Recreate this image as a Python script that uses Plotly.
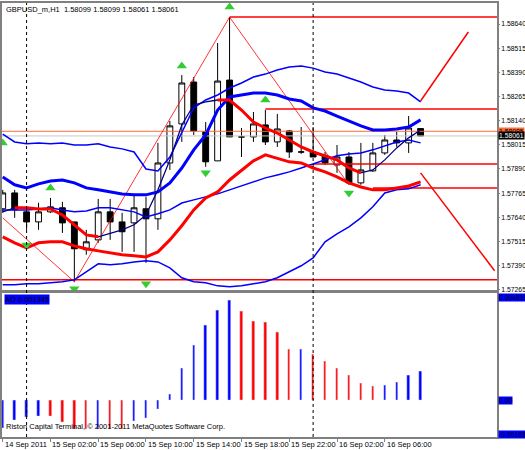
import plotly.graph_objects as go
from plotly.subplots import make_subplots

# bar index 0 = 14 Sep 22:00, one bar per hour
bars = list(range(36))
opens = [1.57684, 1.57766, 1.57668, 1.57616, 1.57668, 1.57689, 1.57616, 1.57472, 1.57523, 1.57668, 1.57616, 1.57611,
         1.57684, 1.57632, 1.57921, 1.58123, 1.58340, 1.58082, 1.57932, 1.58350, 1.58056, 1.58056, 1.58118, 1.58030,
         1.58087, 1.57978, 1.57978, 1.57958, 1.57911, 1.57952, 1.57818, 1.57880, 1.57973, 1.58040, 1.58025, 1.58099]
highs = [1.57782, 1.57782, 1.57689, 1.57715, 1.57740, 1.57720, 1.57616, 1.57575, 1.57735, 1.57735, 1.57663, 1.57756,
         1.57746, 1.58025, 1.58139, 1.58376, 1.58366, 1.58133, 1.58542, 1.58676, 1.58102, 1.58185, 1.58195, 1.58175,
         1.58092, 1.58107, 1.58107, 1.57978, 1.58014, 1.57978, 1.58025, 1.58025, 1.58066, 1.58082, 1.58164, 1.58099]
lows = [1.57663, 1.57637, 1.57575, 1.57575, 1.57663, 1.57559, 1.57306, 1.57446, 1.57508, 1.57523, 1.57461, 1.57461,
        1.57404, 1.57575, 1.57885, 1.58030, 1.58066, 1.57901, 1.57932, 1.58056, 1.57952, 1.58030, 1.58014, 1.58004,
        1.57947, 1.57968, 1.57952, 1.57911, 1.57870, 1.57808, 1.57808, 1.57875, 1.57963, 1.58004, 1.57973, 1.58061]
closes = [1.57766, 1.57679, 1.57616, 1.57668, 1.57694, 1.57611, 1.57477, 1.57513, 1.57668, 1.57616, 1.57565, 1.57689,
          1.57632, 1.57921, 1.58113, 1.58335, 1.58087, 1.57927, 1.58345, 1.58056, 1.58056, 1.58123, 1.58030, 1.58097,
          1.57978, 1.57978, 1.57952, 1.57921, 1.57952, 1.57818, 1.57885, 1.57973, 1.58040, 1.58025, 1.58102, 1.58061]

band_upper = [1.58071, 1.58030, 1.58020, 1.58025, 1.58020, 1.58025, 1.58014, 1.58014, 1.58020, 1.58004, 1.57994, 1.57978,
              1.57890, 1.57880, 1.57952, 1.58076, 1.58206, 1.58247, 1.58273, 1.58309, 1.58335, 1.58366, 1.58381, 1.58402,
              1.58418, 1.58423, 1.58412, 1.58392, 1.58381, 1.58361, 1.58340, 1.58314, 1.58299, 1.58294, 1.58283, 1.58237]
band_inner = [1.57849, 1.57808, 1.57792, 1.57813, 1.57828, 1.57833, 1.57818, 1.57792, 1.57782, 1.57771, 1.57761, 1.57756,
              1.57756, 1.57771, 1.57818, 1.57895, 1.57989, 1.58066, 1.58195, 1.58263, 1.58273, 1.58283, 1.58283, 1.58273,
              1.58252, 1.58242, 1.58206, 1.58190, 1.58164, 1.58138, 1.58113, 1.58092, 1.58092, 1.58097, 1.58107, 1.58144]
band_mid = [1.57678, 1.57678, 1.57678, 1.57683, 1.57689, 1.57678, 1.57668, 1.57673, 1.57689, 1.57689, 1.57678, 1.57668,
            1.57642, 1.57658, 1.57678, 1.57714, 1.57730, 1.57746, 1.57761, 1.57782, 1.57802, 1.57823, 1.57844, 1.57859,
            1.57875, 1.57895, 1.57916, 1.57937, 1.57958, 1.57968, 1.57973, 1.57989, 1.58009, 1.58030, 1.58040, 1.58025]
band_lower = [1.57291, 1.57291, 1.57296, 1.57296, 1.57301, 1.57306, 1.57316, 1.57358, 1.57399, 1.57394, 1.57399, 1.57409,
              1.57415, 1.57409, 1.57378, 1.57327, 1.57306, 1.57301, 1.57285, 1.57280, 1.57285, 1.57296, 1.57306, 1.57327,
              1.57358, 1.57389, 1.57430, 1.57513, 1.57554, 1.57590, 1.57637, 1.57694, 1.57766, 1.57782, 1.57787, 1.57808]
fast_ma = [1.57668, 1.57689, 1.57689, 1.57683, 1.57683, 1.57652, 1.57601, 1.57549, 1.57539, 1.57559, 1.57575, 1.57601,
           1.57652, 1.57782, 1.57937, 1.58118, 1.58221, 1.58237, 1.58247, 1.58247, 1.58195, 1.58133, 1.58102, 1.58076,
           1.58040, 1.58004, 1.57978, 1.57958, 1.57937, 1.57895, 1.57870, 1.57885, 1.57937, 1.57999, 1.58051, 1.58092]
slow_ma = [1.57539, 1.57508, 1.57482, 1.57508, 1.57513, 1.57513, 1.57492, 1.57477, 1.57466, 1.57456, 1.57446, 1.57441,
           1.57435, 1.57461, 1.57523, 1.57596, 1.57678, 1.57740, 1.57771, 1.57833, 1.57885, 1.57932, 1.57963, 1.57947,
           1.57927, 1.57921, 1.57895, 1.57875, 1.57849, 1.57818, 1.57797, 1.57782, 1.57782, 1.57792, 1.57802, 1.57823]

zigzag_x = [0, 6, 19, 29]
zigzag_y = [1.57637, 1.57306, 1.58676, 1.57808]
levels_start = [19, 22, 26, 31, -0.06]
levels = [1.58676, 1.58200, 1.57916, 1.57791, 1.57316]
proj_up_x, proj_up_y = [35, 39], [1.58242, 1.58599]
proj_dn_x, proj_dn_y = [35, 41.2], [1.57870, 1.57363]
ask_price, bid_price = 1.58085, 1.58061

fr_up_x = [0, 4, 15, 19, 22]
fr_up_y = [1.58025, 1.57792, 1.58423, 1.58728, 1.58247]
fr_dn_x = [2, 6, 12, 17, 29]
fr_dn_y = [1.57497, 1.57270, 1.57296, 1.57870, 1.57766]

ao = [-0.00136, -0.00096, -0.00085, -0.00077, -0.0008, -0.00105, -0.0014, -0.0014, -0.0014, -0.0014, -0.0014, -0.00102,
      -0.00086, -0.00046, 0.00027, 0.00153, 0.00263, 0.00359, 0.00431, 0.00479, 0.00426, 0.0038, 0.00372, 0.00326,
      0.00244, 0.00244, 0.00219, 0.00187, 0.00153, 0.00118, 0.00081, 0.00067, 0.0007, 0.00086, 0.00118, 0.00139]
ao_colors = ['blue'] * 4 + ['red'] * 4 + ['blue', 'red', 'red'] + ['blue'] * 9 + ['red'] * 5 + ['blue'] + ['red'] * 6 + ['blue'] * 4

time_ticks = [0, 4, 8, 12, 16, 20, 24, 28, 32]
time_labels = ['14 Sep 2011', '15 Sep 02:00', '15 Sep 06:00', '15 Sep 10:00', '15 Sep 14:00',
               '15 Sep 18:00', '15 Sep 22:00', '16 Sep 02:00', '16 Sep 06:00']
price_ticks = [1.57265, 1.57390, 1.57515, 1.57640, 1.57765, 1.57890, 1.58015, 1.58140, 1.58265, 1.58390, 1.58515, 1.58640]
day_breaks = [2, 26]

X_END = 41.4
FONT = 'Liberation Sans'
FS = 7.5

fig = make_subplots(rows=2, cols=1, shared_xaxes=True, vertical_spacing=0.007, row_heights=[0.662, 0.331])

line = lambda x, y, c, w: go.Scatter(x=x, y=y, mode='lines', line=dict(color=c, width=w), hoverinfo='skip')

fig.add_trace(line([-0.06, X_END], [bid_price] * 2, '#c8c8c8', 1), row=1, col=1)
fig.add_trace(line([-0.06, X_END], [ask_price] * 2, '#ff6a3a', 1), row=1, col=1)
for s, v in zip(levels_start, levels):
    fig.add_trace(line([s, X_END], [v, v], 'red', 1.5), row=1, col=1)
fig.add_trace(line(zigzag_x, zigzag_y, 'red', 0.8), row=1, col=1)
fig.add_trace(line(proj_up_x, proj_up_y, 'red', 1.5), row=1, col=1)
fig.add_trace(line(proj_dn_x, proj_dn_y, 'red', 1.5), row=1, col=1)

fig.add_trace(line(bars, band_upper, 'blue', 1.5), row=1, col=1)
fig.add_trace(line(bars, band_lower, 'blue', 1.5), row=1, col=1)
fig.add_trace(line(bars, band_mid, 'blue', 1.5), row=1, col=1)
fig.add_trace(line(bars, band_inner, 'blue', 3), row=1, col=1)
fig.add_trace(line(bars, slow_ma, 'red', 3), row=1, col=1)

# fast MA: navy when rising, red when falling
fig.add_trace(line(bars, fast_ma, '#000080', 1.3), row=1, col=1)
falling = [None] * len(bars)
for i in range(1, len(bars)):
    if fast_ma[i] <= fast_ma[i - 1]:
        falling[i - 1] = fast_ma[i - 1]
        falling[i] = fast_ma[i]
fig.add_trace(line(bars, falling, 'red', 3), row=1, col=1)

fig.add_trace(go.Candlestick(
    x=bars, open=opens, high=highs, low=lows, close=closes,
    increasing=dict(line=dict(color='black', width=1), fillcolor='white'),
    decreasing=dict(line=dict(color='black', width=1), fillcolor='black'),
    whiskerwidth=0, hoverinfo='skip'), row=1, col=1)

fig.add_trace(go.Scatter(x=fr_up_x, y=fr_up_y, mode='markers',
                         marker=dict(symbol='triangle-up', size=9, color='#33cc33'), hoverinfo='skip'), row=1, col=1)
fig.add_trace(go.Scatter(x=fr_dn_x, y=fr_dn_y, mode='markers',
                         marker=dict(symbol='triangle-down', size=9, color='#33cc33'), hoverinfo='skip'), row=1, col=1)

fig.add_trace(go.Bar(x=bars, y=ao, marker_color=ao_colors, width=0.2, hoverinfo='skip'), row=2, col=1)

for d in day_breaks:
    fig.add_shape(type='line', x0=d, x1=d, y0=0, y1=1, xref='x', yref='paper',
                  line=dict(color='black', width=1, dash='dot'))

axis_style = dict(showline=True, linecolor='#808080', linewidth=2, mirror=True, showgrid=False,
                  zeroline=False, automargin=False)
fig.update_xaxes(range=[-0.06, X_END], autorange=False, showticklabels=False, tickvals=time_ticks,
                 ticks='outside', ticklen=3, tickcolor='#808080', rangeslider_visible=False, **axis_style)
fig.update_xaxes(ticks='', row=1, col=1)
fig.update_yaxes(range=[1.57262, 1.58749], autorange=False, side='right', tickvals=price_ticks,
                 ticktext=['%.5f' % v for v in price_ticks], ticks='outside', ticklen=1, tickcolor='#808080',
                 tickfont=dict(size=6.8, family=FONT, color='black'), row=1, col=1, **axis_style)
fig.update_yaxes(range=[-0.00177, 0.00512], autorange=False, showticklabels=False, row=2, col=1, **axis_style)

annotations = [
    dict(x=0.005, y=1.0, xref='paper', yref='paper', xanchor='left', yanchor='top', showarrow=False,
         text='GBPUSD_m,H1  1.58099 1.58099 1.58061 1.58061', font=dict(size=FS, family=FONT, color='black')),
    dict(x=0.005, y=0.33, xref='paper', yref='paper', xanchor='left', yanchor='top', showarrow=False,
         text='AO 0.001345', bgcolor='blue', borderpad=0, font=dict(size=FS, family=FONT, color='black')),
    dict(x=0.005, y=0.01, xref='paper', yref='paper', xanchor='left', yanchor='bottom', showarrow=False,
         text='Riston Capital Terminal, © 2001-2011 MetaQuotes Software Corp.',
         font=dict(size=FS, family=FONT, color='black')),
]
for v, t, bg, fc in [(ask_price, '1.58085', '#ff6a3a', 'black'), (bid_price, '1.58061', 'black', 'white')]:
    annotations.append(dict(x=1.0, y=v, xref='paper', yref='y', xanchor='left', xshift=1, showarrow=False, text=t,
                            bgcolor=bg, borderpad=0, font=dict(size=6.8, family=FONT, color=fc)))
for v, t in [(0.0049, '0.004919'), (0.0, '0.00'), (-0.00163, '-0.00163')]:
    annotations.append(dict(x=1.0, y=v, xref='paper', yref='y2', xanchor='left', xshift=1, showarrow=False, text=t,
                            bgcolor='blue', borderpad=0, font=dict(size=6.8, family=FONT, color='black')))
for b, t in zip(time_ticks, time_labels):
    annotations.append(dict(x=b, y=0, xref='x2', yref='paper', xanchor='left', yanchor='top', yshift=-1,
                            showarrow=False, text=t, font=dict(size=FS, family=FONT, color='black')))

fig.update_layout(width=525, height=450, margin=dict(l=2, r=28, t=3, b=13, autoexpand=False), showlegend=False,
                  paper_bgcolor='white', plot_bgcolor='white', bargap=0, annotations=annotations)

fig.write_html('out.html', config={'displayModeBar': False}, post_script="document.body.style.margin='0';")
